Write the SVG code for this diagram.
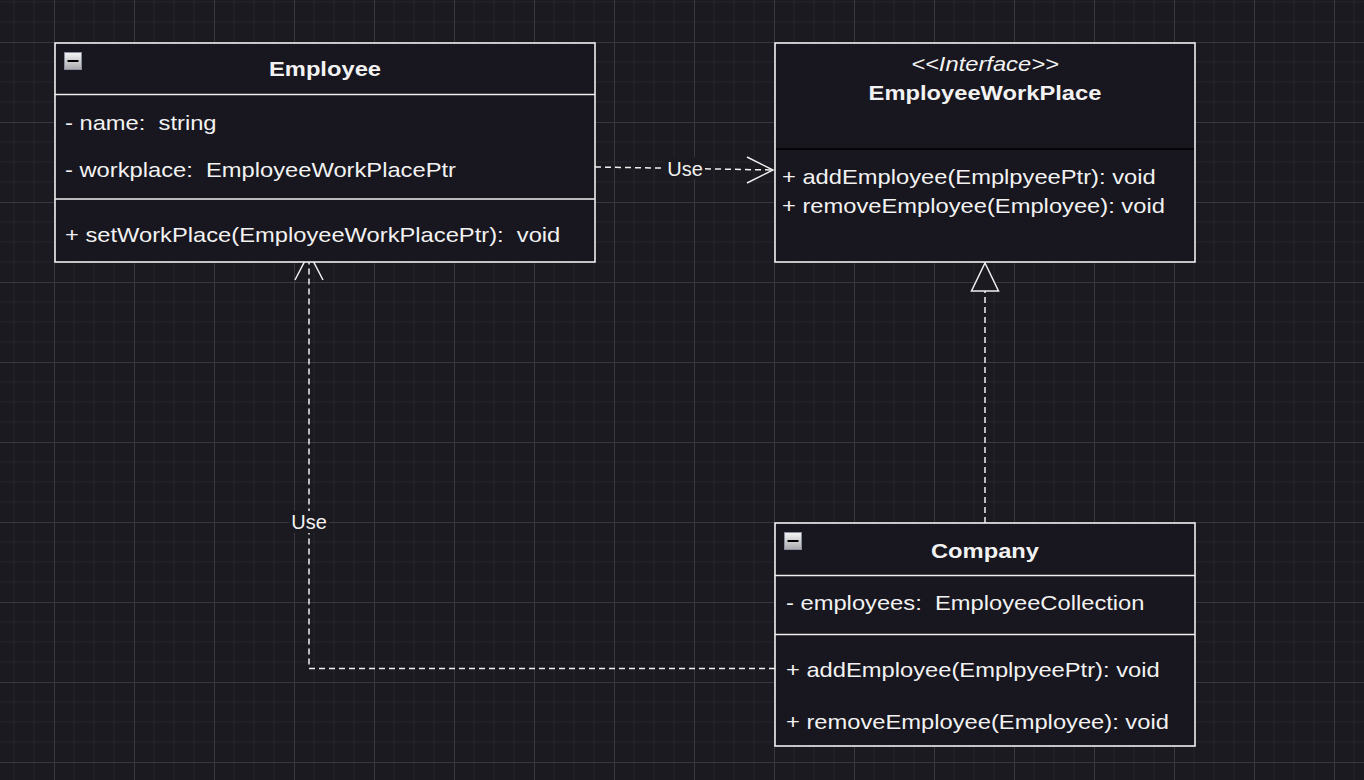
<svg xmlns="http://www.w3.org/2000/svg" width="1364" height="780" viewBox="0 0 1364 780">
<defs>
<pattern id="grid" x="54" y="42" width="80" height="80" patternUnits="userSpaceOnUse">
<path d="M20,0V80M40,0V80M60,0V80M0,20H80M0,40H80M0,60H80" stroke="#26242c" stroke-width="1" fill="none"/>
<path d="M0.5,0V80M0,0.5H80" stroke="#393740" stroke-width="1" fill="none"/>
</pattern>
<linearGradient id="btn" x1="0" y1="0" x2="0" y2="1">
<stop offset="0" stop-color="#f6f6f6"/>
<stop offset="1" stop-color="#a9a9ad"/>
</linearGradient>
</defs>
<style>
.box{fill:#18161e;stroke:#efefef;stroke-width:1.6}
.div{stroke:#efefef;stroke-width:1.6;fill:none}
.t{font-family:"Liberation Sans",Arial,Helvetica,sans-serif;font-size:21px;fill:#f2f2f2;white-space:pre}
.u{font-family:"Liberation Sans",Arial,Helvetica,sans-serif;font-size:20px;fill:#f2f2f2;text-anchor:middle}
.b{font-weight:bold}
.i{font-style:italic}
.m{text-anchor:middle}
.edge{stroke:#efefef;stroke-width:1.5;fill:none;stroke-dasharray:6 4}
.head{stroke:#efefef;stroke-width:1.5;fill:none}
.lbl{fill:#1b1a21}
.btn{fill:url(#btn);stroke:#8a90a0;stroke-width:1}
</style>
<rect width="1364" height="780" fill="#1b1a21"/>
<rect width="1364" height="780" fill="url(#grid)"/>

<g id="connectors">
<path class="edge" d="M595,167 L773,170"/>
<path class="head" d="M747,157 L773,170 L747,183"/>
<rect class="lbl" x="665" y="157" width="40" height="22"/>
<text class="u" x="685" y="175.5">Use</text>

<path class="edge" d="M775,668.5 L309,668.5 L309,255"/>
<path class="head" d="M295,280 L309,253 L323,280"/>
<rect class="lbl" x="289" y="511" width="40" height="22"/>
<text class="u" x="309" y="529">Use</text>

<path class="edge" d="M985,523 L985,291"/>
<path d="M985,263 L998.5,291 L971.5,291 Z" fill="#1b1a21" stroke="#efefef" stroke-width="1.5"/>
</g>

<g id="employee">
<rect class="box" x="55" y="43" width="540" height="219"/>
<line class="div" x1="55" y1="94.5" x2="595" y2="94.5"/>
<line class="div" x1="55" y1="199" x2="595" y2="199"/>
<rect class="btn" x="64.5" y="52.5" width="17" height="17"/>
<rect x="67.5" y="60" width="11" height="2" fill="#000"/>
<text class="t b m" transform="translate(325,76) scale(1.13,1)">Employee</text>
<text class="t" xml:space="preserve" transform="translate(65,130) scale(1.13,1)">- name:  string</text>
<text class="t" xml:space="preserve" transform="translate(65,177) scale(1.13,1)">- workplace:  EmployeeWorkPlacePtr</text>
<text class="t" xml:space="preserve" transform="translate(65,242) scale(1.13,1)">+ setWorkPlace(EmployeeWorkPlacePtr):  void</text>
</g>

<g id="employeeworkplace">
<rect class="box" x="775" y="43" width="420" height="219"/>
<line x1="776" y1="149" x2="1194" y2="149" stroke="#000" stroke-width="1.5"/>
<text class="t i m" transform="translate(985,71) scale(1.13,1)">&lt;&lt;Interface&gt;&gt;</text>
<text class="t b m" transform="translate(985,100) scale(1.13,1)">EmployeeWorkPlace</text>
<text class="t" transform="translate(782,184) scale(1.13,1)">+ addEmployee(EmplpyeePtr): void</text>
<text class="t" transform="translate(782,213) scale(1.13,1)">+ removeEmployee(Employee): void</text>
</g>

<g id="company">
<rect class="box" x="775" y="523" width="420" height="223"/>
<line class="div" x1="775" y1="575.5" x2="1195" y2="575.5"/>
<line class="div" x1="775" y1="634.5" x2="1195" y2="634.5"/>
<rect class="btn" x="784.5" y="532.5" width="17" height="17"/>
<rect x="787.5" y="540" width="11" height="2" fill="#000"/>
<text class="t b m" transform="translate(985,557.5) scale(1.13,1)">Company</text>
<text class="t" xml:space="preserve" transform="translate(786,609.5) scale(1.13,1)">- employees:  EmployeeCollection</text>
<text class="t" transform="translate(786,677) scale(1.13,1)">+ addEmployee(EmplpyeePtr): void</text>
<text class="t" transform="translate(786,729) scale(1.13,1)">+ removeEmployee(Employee): void</text>
</g>
</svg>
